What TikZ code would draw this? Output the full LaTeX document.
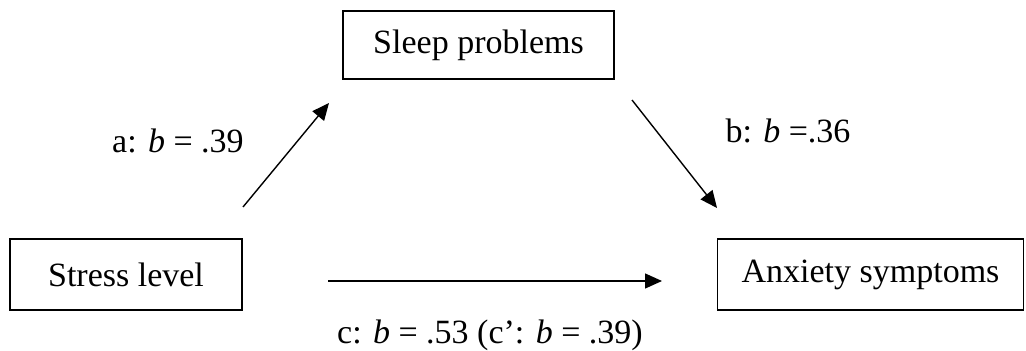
\documentclass[tikz,border=0pt]{standalone}
\usepackage{fontspec}
\setmainfont{Liberation Serif}
\usetikzlibrary{arrows.meta}
\tikzset{
  varbox/.style={draw, line width=0.6pt, inner sep=0pt, font=\fontsize{17}{20}\selectfont},
  effect/.style={-{Triangle[length=8.5pt,width=7.5pt]}, line width=0.7pt},
  coef/.style={anchor=base, font=\fontsize{17}{20}\selectfont}
}
\begin{document}
\begin{tikzpicture}[x=0.5pt, y=-0.5pt]
  \useasboundingbox (0,0) rectangle (1026,351);
  % variables
  \node[varbox, minimum width=135.5pt, minimum height=34pt] (sleep) at (478.5,45) {Sleep problems};
  \node[varbox, minimum width=116pt, minimum height=35.5pt] (stress) at (126,274.5) {Stress level};
  \node[varbox, minimum width=153pt, minimum height=35.5pt] (anxiety) at (870.5,274.5) {Anxiety symptoms};
  % paths
  \coordinate (atail) at (243,207);
  \coordinate (ahead) at (329,103);
  \coordinate (btail) at (632,100);
  \coordinate (bhead) at (717,208);
  \coordinate (ctail) at (328,281);
  \coordinate (chead) at (662,281);
  \draw[effect] (atail) -- (ahead);
  \draw[effect] (btail) -- (bhead);
  \draw[effect] (ctail) -- (chead);
  % coefficients
  \node[coef] (alab) at (178,153) {a: \textit{b} = .39};
  \node[coef] (blab) at (788,143) {b: \textit{b} =.36};
  \node[coef] (clab) at (490,344) {c: \textit{b} = .53 (c’: \textit{b} = .39)};
\end{tikzpicture}
\end{document}
